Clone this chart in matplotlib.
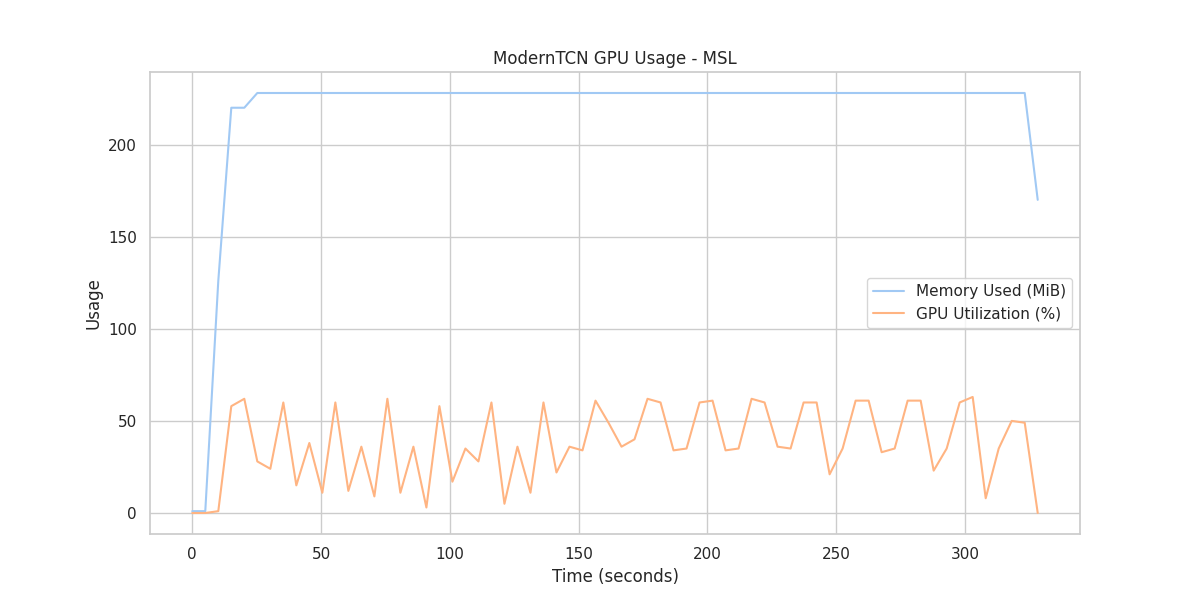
import matplotlib
matplotlib.use("Agg")
import matplotlib.pyplot as plt
import seaborn as sns

sns.set_theme(style="whitegrid", palette="pastel")

# sampled roughly every 5 seconds
time_s = [
    0.0, 5.05, 10.1, 15.15, 20.2, 25.25, 30.3, 35.35, 40.4, 45.45,
    50.5, 55.55, 60.6, 65.65, 70.7, 75.75, 80.8, 85.85, 90.9, 95.95,
    101.0, 106.05, 111.1, 116.15, 121.2, 126.25, 131.3, 136.35, 141.4, 146.45,
    151.5, 156.55, 161.6, 166.65, 171.7, 176.75, 181.8, 186.85, 191.9, 196.95,
    202.0, 207.05, 212.1, 217.15, 222.2, 227.25, 232.3, 237.35, 242.4, 247.45,
    252.5, 257.55, 262.6, 267.65, 272.7, 277.75, 282.8, 287.85, 292.9, 297.95,
    303.0, 308.05, 313.1, 318.15, 323.2, 328.25,
]

memory_mib = [1, 1, 126, 220, 220] + [228] * 60 + [170]

gpu_util = [
    0, 0, 1, 58, 62, 28, 24, 60, 15, 38,
    11, 60, 12, 36, 9, 62, 11, 36, 3, 58,
    17, 35, 28, 60, 5, 36, 11, 60, 22, 36,
    34, 61, 49, 36, 40, 62, 60, 34, 35, 60,
    61, 34, 35, 62, 60, 36, 35, 60, 60, 21,
    35, 61, 61, 33, 35, 61, 61, 23, 35, 60,
    63, 8, 35, 50, 49, 0,
]

fig, ax = plt.subplots(figsize=(12, 6), dpi=100)
ax.plot(time_s, memory_mib, label="Memory Used (MiB)")
ax.plot(time_s, gpu_util, label="GPU Utilization (%)")

ax.set_title("ModernTCN GPU Usage - MSL")
ax.set_xlabel("Time (seconds)")
ax.set_ylabel("Usage")
ax.legend(loc="center right")

fig.savefig("out.png")
plt.close(fig)
